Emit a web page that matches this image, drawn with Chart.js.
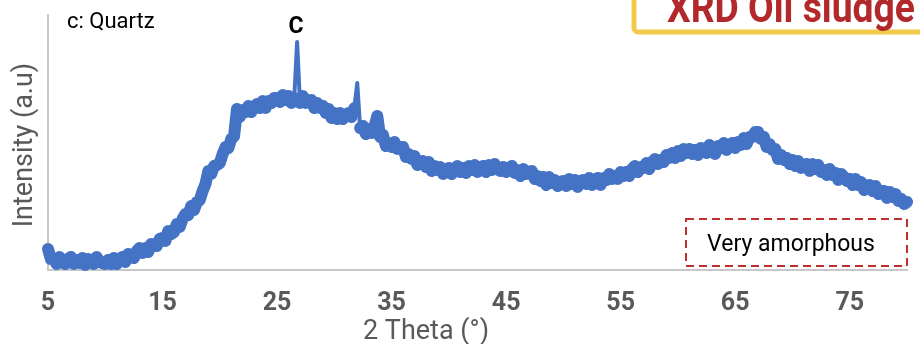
<!DOCTYPE html>
<html>
<head>
<meta charset="utf-8">
<script src="https://cdn.jsdelivr.net/npm/chart.js@4.4.1/dist/chart.umd.min.js"></script>
<style>
  html, body { margin: 0; padding: 0; background: #fff; }
  #wrap { width: 920px; height: 344px; }
</style>
</head>
<body>
<div id="wrap"><canvas id="grafico"></canvas></div>
<script>
// 2 theta scan, 5 to 80 deg every 0.25 deg
const thetaStart = 5;
const thetaStep = 0.25;
const intensidade = [
  21, 11, 11, 6, 13, 8, 6, 11, 13, 6, 10, 7, 12, 5, 11, 9, 6, 13, 8, 7,
  6, 10, 6, 12, 6, 11, 13, 8, 16, 13, 12, 19, 22, 17, 22, 18, 26, 25, 24, 31,
  32, 29, 39, 36, 38, 46, 43, 51, 56, 55, 64, 60, 68, 70, 79, 86, 99, 96, 104, 105,
  107, 116, 123, 122, 131, 134, 161, 153, 160, 158, 164, 158, 163, 166, 162, 169, 162, 169, 167, 172,
  172, 168, 175, 170, 174, 167, 172, 228, 167, 174, 167, 169, 170, 162, 167, 162, 164, 157, 161, 152,
  157, 151, 157, 151, 155, 157, 153, 162, 187, 142, 144, 136, 141, 137, 143, 154, 133, 135, 124, 127,
  123, 128, 121, 123, 123, 113, 116, 111, 114, 105, 108, 109, 103, 108, 99, 104, 100, 103, 96, 100,
  102, 96, 101, 104, 98, 102, 97, 104, 100, 105, 98, 102, 104, 98, 105, 100, 106, 101, 99, 103,
  98, 102, 104, 97, 100, 94, 101, 96, 98, 99, 91, 94, 89, 93, 85, 93, 87, 90, 84, 88,
  89, 84, 91, 86, 90, 83, 89, 90, 86, 92, 85, 90, 92, 85, 92, 90, 96, 91, 94, 91,
  98, 94, 98, 94, 101, 104, 98, 103, 102, 107, 101, 108, 111, 106, 110, 108, 115, 112, 117, 112,
  119, 114, 121, 117, 121, 116, 120, 115, 122, 121, 117, 125, 119, 116, 124, 122, 127, 120, 125, 127,
  122, 128, 125, 132, 126, 133, 133, 138, 138, 131, 133, 123, 126, 120, 121, 111, 115, 110, 112, 106,
  110, 104, 109, 102, 105, 106, 99, 106, 101, 105, 98, 100, 95, 101, 95, 97, 90, 96, 93, 89,
  91, 85, 91, 85, 88, 80, 84, 85, 79, 84, 76, 79, 79, 72, 78, 73, 76, 69, 71, 66,
  68
];
const ticksX = [5, 15, 25, 35, 45, 55, 65, 75];
const picoQuartzo = 26.75;
// reflexoes estreitas (theta) desenhadas com traco fino
const picosFinos = [26.75, 32];

const titulo = "XRD Oil sludge";
const tituloX = "2 Theta (°)";
const tituloY = "Intensity (a.u)";
const legendaPico = "c: Quartz";
const rotuloPico = "C";
const notaAmorfo = "Very amorphous";

const pontos = intensidade.map((v, i) => ({ x: thetaStart + i * thetaStep, y: v }));
const indicesFinos = picosFinos.map(t => Math.round((t - thetaStart) / thetaStep));

const cinza = "#595959";

const decoracao = {
  id: "decoracao",
  afterDraw(chart) {
    const { ctx, scales: { x } } = chart;
    ctx.save();

    // caixa do titulo (cortada no topo)
    ctx.strokeStyle = "#F2C94C";
    ctx.lineWidth = 5;
    ctx.beginPath();
    ctx.roundRect(634, -20, 320, 52, 4);
    ctx.stroke();
    ctx.fillStyle = "#B3282B";
    ctx.font = "bold 42px Roboto";
    ctx.textAlign = "left";
    ctx.textBaseline = "alphabetic";
    const w = ctx.measureText(titulo).width;
    ctx.save();
    ctx.translate(667, 22);
    ctx.scale(248 / w, 1);
    ctx.fillText(titulo, 0, 0);
    ctx.restore();

    // titulos dos eixos
    ctx.fillStyle = cinza;
    ctx.font = "27px Roboto";
    ctx.textAlign = "center";
    ctx.fillText(tituloX, 426, 339);
    ctx.save();
    ctx.translate(32, 145);
    ctx.rotate(-Math.PI / 2);
    ctx.fillText(tituloY, 0, 0);
    ctx.restore();

    // legenda quartzo
    ctx.fillStyle = "#000";
    ctx.font = "22px Roboto";
    ctx.textAlign = "left";
    ctx.fillText(legendaPico, 67, 28);
    ctx.font = "bold 23px Roboto";
    ctx.textAlign = "center";
    ctx.fillText(rotuloPico, x.getPixelForValue(picoQuartzo) - 1, 33);

    // caixa tracejada
    ctx.strokeStyle = "#C0302B";
    ctx.lineWidth = 2;
    ctx.setLineDash([8, 5]);
    ctx.strokeRect(686, 219, 221, 47);
    ctx.setLineDash([]);
    ctx.fillStyle = "#000";
    ctx.font = "23px Roboto";
    ctx.fillText(notaAmorfo, 791, 251);

    ctx.restore();
  }
};

const ctx = document.getElementById("grafico").getContext("2d");

new Chart(ctx, {
  type: "line",
  data: {
    datasets: [{
      data: pontos,
      borderColor: "#4472C4",
      borderWidth: 12,
      borderJoinStyle: "round",
      borderCapStyle: "round",
      pointRadius: 0,
      tension: 0,
      clip: false,
      segment: {
        borderWidth: (c) =>
          indicesFinos.includes(c.p0DataIndex) || indicesFinos.includes(c.p1DataIndex) ? 4 : undefined
      }
    }]
  },
  options: {
    responsive: true,
    maintainAspectRatio: false,
    animation: false,
    events: [],
    layout: { padding: { left: 48, right: 13, top: 15, bottom: 0 } },
    plugins: {
      legend: { display: false },
      tooltip: { enabled: false }
    },
    scales: {
      x: {
        type: "linear",
        min: 5,
        max: 80,
        grid: { display: false, drawTicks: false },
        border: { display: true, color: "#C8C8C8", width: 2 },
        afterBuildTicks: (s) => { s.ticks = ticksX.map(v => ({ value: v })); },
        afterFit: (s) => { s.height = 74; },
        ticks: {
          padding: 19,
          maxRotation: 0,
          autoSkip: false,
          color: cinza,
          font: { family: "Roboto", size: 25, weight: "bold" }
        }
      },
      y: {
        min: 0,
        max: 255,
        grid: { display: false, drawTicks: false },
        border: { display: true, color: "#C8C8C8", width: 2 },
        ticks: { display: false },
        afterFit: (s) => { s.width = 0; }
      }
    }
  },
  plugins: [decoracao]
});
</script>
</body>
</html>
